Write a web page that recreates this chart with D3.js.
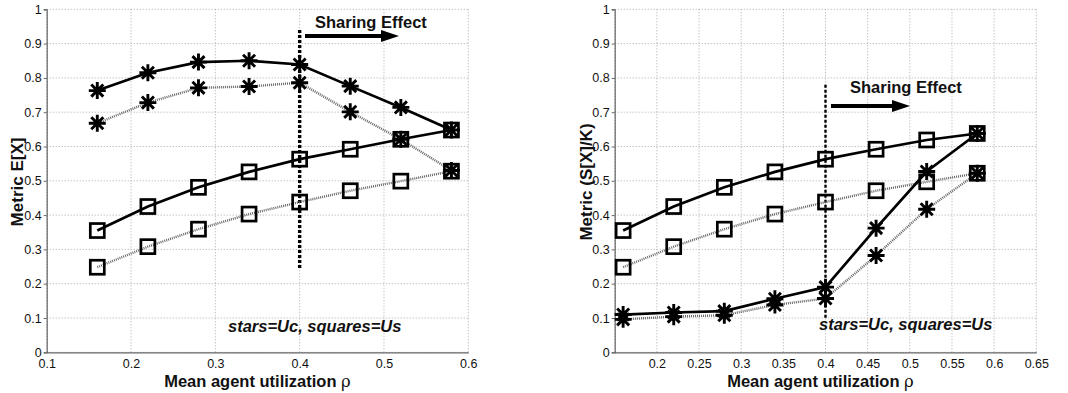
<!DOCTYPE html>
<html><head><meta charset="utf-8">
<script src="https://cdn.jsdelivr.net/npm/d3@7"></script>
<style>
body{margin:0;background:#fff;}
text{font-family:"Liberation Sans",Arial,sans-serif;}
</style></head>
<body>
<svg id="c" width="1068" height="393"></svg>
<script>
const rho = [0.16,0.22,0.28,0.34,0.40,0.46,0.52,0.58];
// Left panel: Metric E[X]
const leftStarsSolid   = [0.763,0.815,0.846,0.850,0.839,0.776,0.714,0.648];
const leftStarsDotted  = [0.668,0.728,0.771,0.775,0.786,0.701,0.621,0.530];
const leftSquaresSolid = [0.355,0.425,0.481,0.526,0.563,0.592,0.621,0.648];
const leftSquaresDotted= [0.248,0.308,0.359,0.403,0.438,0.471,0.499,0.528];
// Right panel: Metric (S[X]/K)
const rightSquaresSolid = [0.355,0.425,0.481,0.526,0.563,0.592,0.619,0.638];
const rightSquaresDotted= [0.248,0.308,0.359,0.403,0.438,0.471,0.497,0.522];
const rightStarsSolid   = [0.110,0.116,0.120,0.156,0.190,0.362,0.527,0.638];
const rightStarsDotted  = [0.096,0.104,0.108,0.138,0.157,0.282,0.417,0.522];
const yTicks = [0,0.1,0.2,0.3,0.4,0.5,0.6,0.7,0.8,0.9,1];
const leftXTicks = [0.1,0.2,0.3,0.4,0.5,0.6];
const rightXTicks = [0.2,0.25,0.3,0.35,0.4,0.45,0.5,0.55,0.6,0.65];
const rightXGrid = [0.15,0.2,0.25,0.3,0.35,0.4,0.45,0.5,0.55,0.6,0.65];
const threshold = 0.4;

const svg = d3.select("#c");

function fmt(v){ return d3.format("~g")(v); }

function star(g, x, y, r){
  const p = d3.path();
  for(let k=0;k<4;k++){
    const a = k*Math.PI/4;
    p.moveTo(x - r*Math.cos(a), y - r*Math.sin(a));
    p.lineTo(x + r*Math.cos(a), y + r*Math.sin(a));
  }
  g.append("path").attr("d", p.toString()).attr("stroke","#000").attr("stroke-width",2.9).attr("fill","none");
}

function panel(opt){
  const x = d3.scaleLinear().domain(opt.xdom).range([opt.x0, opt.x1]);
  const y = d3.scaleLinear().domain([0,1]).range([352.3, 9.3]);
  const g = svg.append("g");
  // grid
  g.selectAll(null).data(opt.xgrid).enter().append("line")
    .attr("x1",d=>x(d)).attr("x2",d=>x(d)).attr("y1",y(0)).attr("y2",y(1))
    .attr("stroke","#aaa").attr("stroke-width",1).attr("stroke-dasharray","1,2");
  g.selectAll(null).data(yTicks).enter().append("line")
    .attr("x1",x.range()[0]).attr("x2",x.range()[1]).attr("y1",d=>y(d)).attr("y2",d=>y(d))
    .attr("stroke","#aaa").attr("stroke-width",1).attr("stroke-dasharray","1,2");
  // axes
  const ya = g.append("g").attr("transform",`translate(${x.range()[0]},0)`)
    .call(d3.axisLeft(y).tickValues(yTicks).tickFormat(fmt).tickSize(3).tickPadding(2));
  const xa = g.append("g").attr("transform",`translate(0,${y(0)})`)
    .call(d3.axisBottom(x).tickValues(opt.xticks).tickFormat(fmt).tickSize(0).tickPadding(7));
  [ya,xa].forEach(a=>{
    a.select(".domain").attr("stroke","#666").attr("stroke-width",1.2);
    a.selectAll(".tick line").attr("stroke","#666");
    a.selectAll("text").attr("font-size","12.5px").attr("fill","#111")
      .style("font-family","'Liberation Sans',Arial,sans-serif");
  });
  // axis labels
  const xl = g.append("text").attr("x",(x.range()[0]+x.range()[1])/2 + opt.xlabDx).attr("y",387)
    .attr("text-anchor","middle").attr("font-size","16.5px").attr("font-weight","bold").attr("fill","#111");
  xl.append("tspan").text("Mean agent utilization ");
  xl.append("tspan").attr("font-weight","normal").style("font-family","'DejaVu Serif',serif").text("ρ");
  g.append("text").attr("transform",`translate(${opt.ylabX},182) rotate(-90)`)
    .attr("text-anchor","middle").attr("font-size","17px").attr("font-weight","bold").attr("fill","#111")
    .text(opt.ylab);
  // threshold dashed line
  g.append("line").attr("x1",x(threshold)).attr("x2",x(threshold))
    .attr("y1",y(opt.vline[0])).attr("y2",y(opt.vline[1]))
    .attr("stroke","#000").attr("stroke-width",opt.vlw).attr("stroke-dasharray",opt.vdash);
  // series
  const line = vals => d3.line().x((d,i)=>x(rho[i])).y(d=>y(d))(vals);
  opt.series.forEach(s=>{
    g.append("path").attr("d",line(s.v)).attr("fill","none")
      .attr("stroke", s.dotted ? "#666" : "#000")
      .attr("stroke-width", s.dotted ? 2.4 : 2.7)
      .attr("stroke-dasharray", s.dotted ? "1,1" : null);
  });
  opt.series.forEach(s=>{
    s.v.forEach((d,i)=>{
      if(s.m==="star") star(g, x(rho[i]), y(d), 8.5);
      else g.append("rect").attr("x",x(rho[i])-7).attr("y",y(d)-7).attr("width",14).attr("height",14)
        .attr("fill","none").attr("stroke","#000").attr("stroke-width",2.7);
    });
  });
  // annotations
  g.append("text").attr("x",opt.se[0]).attr("y",opt.se[1]).attr("font-size","16.5px").attr("font-weight","bold")
    .attr("fill","#111").text("Sharing Effect");
  const ax0 = opt.arrow[0], ax1 = opt.arrow[1], ay = opt.arrow[2];
  g.append("line").attr("x1",ax0).attr("x2",ax1-14).attr("y1",ay).attr("y2",ay).attr("stroke","#000").attr("stroke-width",4);
  g.append("path").attr("d",`M${ax1-18},${ay-6}L${ax1},${ay}L${ax1-18},${ay+6}Z`).attr("fill","#000");
  g.append("text").attr("x",opt.st[0]).attr("y",opt.st[1]).attr("font-size","16.5px").attr("font-weight","bold")
    .attr("font-style","italic").attr("fill","#111").text("stars=Uc, squares=Us");
}

panel({
  xdom:[0.1,0.6], x0:46.7, x1:468.3, xticks:leftXTicks, xgrid:leftXTicks, xlabDx:0,
  ylab:"Metric E[X]", ylabX:23,
  vline:[0.94,0.24], vlw:3.4, vdash:"3,2",
  series:[
    {v:leftStarsSolid, m:"star"},
    {v:leftStarsDotted, m:"star", dotted:true},
    {v:leftSquaresSolid, m:"sq"},
    {v:leftSquaresDotted, m:"sq", dotted:true}
  ],
  se:[315,28], arrow:[305,399,36], st:[228,332]
});
panel({
  xdom:[0.15,0.65], x0:614.7, x1:1036.3, xticks:rightXTicks, xgrid:rightXGrid, xlabDx:-5,
  ylab:"Metric (S[X]/K)", ylabX:592,
  vline:[0.78,0.1], vlw:2.4, vdash:"3,2",
  series:[
    {v:rightSquaresSolid, m:"sq"},
    {v:rightSquaresDotted, m:"sq", dotted:true},
    {v:rightStarsSolid, m:"star"},
    {v:rightStarsDotted, m:"star", dotted:true}
  ],
  se:[850,93], arrow:[831,910,106], st:[819,330]
});
</script>
</body></html>
